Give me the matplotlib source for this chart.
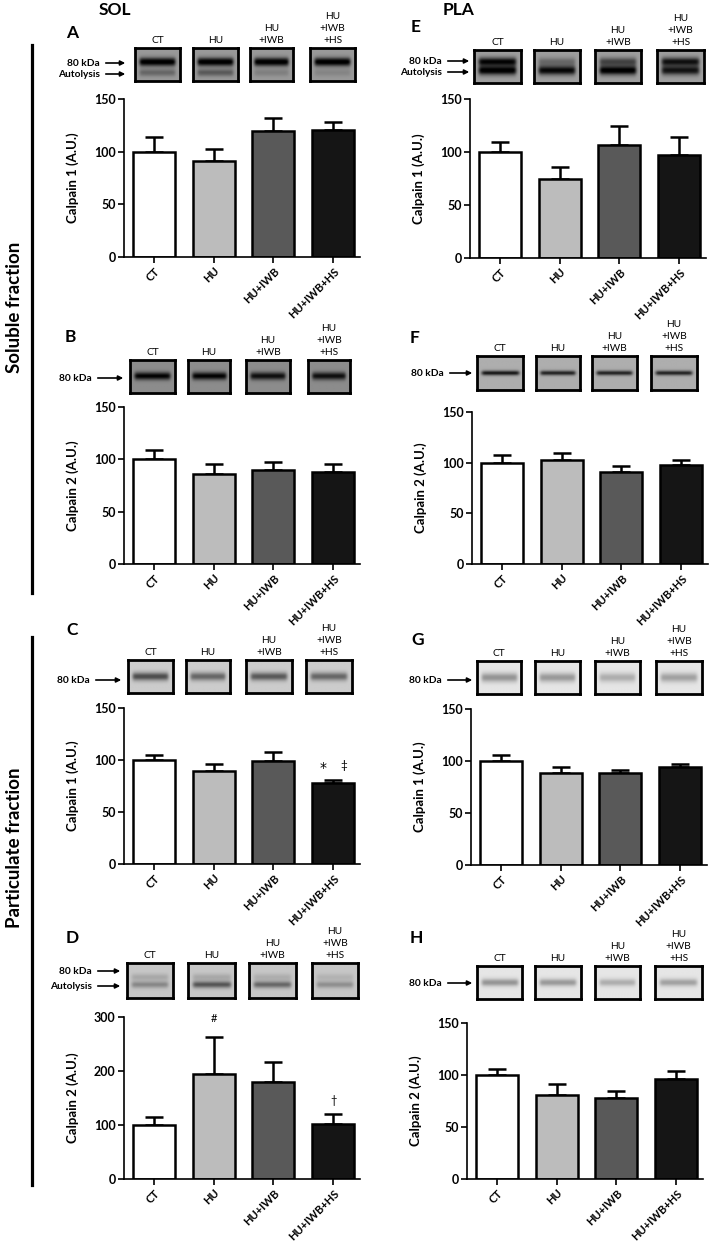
import numpy as np
import matplotlib
matplotlib.use('Agg')
import matplotlib.pyplot as plt

plt.rcParams['font.family'] = ['Lato', 'DejaVu Sans']

## data

groups = ['CT', 'HU', 'HU+IWB', 'HU+IWB+HS']
lanes = ['CT', 'HU', 'HU\n+IWB', 'HU\n+IWB\n+HS']
colors = ['#ffffff', '#bcbcbc', '#595959', '#151515']

A_mean = [100, 91, 120, 121]
A_err = [14, 12, 12, 7]
B_mean = [100, 86, 89.5, 88]
B_err = [8.5, 9.5, 7.5, 7.5]
C_mean = [100, 89, 99, 78]
C_err = [5, 7, 9, 3]
D_mean = [100, 195, 180, 102]
D_err = [15, 68, 37, 19]
E_mean = [100, 75, 106.5, 97]
E_err = [9, 11, 18.5, 17]
F_mean = [100, 103, 91, 97.5]
F_err = [7.5, 6.5, 6, 5]
G_mean = [100, 88, 88, 94.5]
G_err = [5.5, 6.5, 3.5, 3]
H_mean = [100, 81, 78, 96]
H_err = [6, 10, 7, 7.5]

W, H = 709, 1243
fig = plt.figure(figsize=(W / 100, H / 100), dpi=100)


def rect(l, t, r, b):
    return [l / W, 1 - b / H, (r - l) / W, (b - t) / H]


# overlay in pixel coords for labels / arrows / lines
ov = fig.add_axes([0, 0, 1, 1])
ov.set_xlim(0, W)
ov.set_ylim(H, 0)
ov.axis('off')


def blot_img(bg, bands, lane):
    ny, nx = 40, 60
    yy = np.linspace(0, 1, ny)[:, None]
    xx = np.linspace(0, 1, nx)[None, :]
    env = 0.5 * (np.tanh((xx - 0.1) / 0.04) - np.tanh((xx - 0.9) / 0.04))
    img = np.full((ny, nx), bg)
    for pos, sig, dark in bands:
        img = img - dark[lane] * np.exp(-(yy - pos) ** 2 / (2 * sig ** 2)) * env
    return np.clip(img, 0, 1)


# panel layout: letter, means, errs, ylabel, ymax, spine x, top y, zero y,
# blot top/bottom, blot x ranges, letter pos, arrow labels (text, y), arrow x0, x1, blot look
panels = [
    dict(letter='A', m=A_mean, e=A_err, yl='Calpain 1 (A.U.)', ymax=150, x0=124, top=99, bot=257,
         bt=48, bb=81, bx=[(135, 180), (193, 238), (250, 293), (310, 355)], lp=(72, 33),
         arr=[('80 kDa', 63), ('Autolysis', 74)], ax0=103, ax1=128,
         bg=0.6, bands=[(0.42, 0.09, [0.65, 0.65, 0.65, 0.65]), (0.75, 0.08, [0.2, 0.25, 0.1, 0.08])]),
    dict(letter='B', m=B_mean, e=B_err, yl='Calpain 2 (A.U.)', ymax=150, x0=124, top=407, bot=564,
         bt=360, bb=393, bx=[(130, 175), (188, 230), (246, 290), (308, 350)], lp=(70, 337),
         arr=[('80 kDa', 378)], ax0=95, ax1=126,
         bg=0.55, bands=[(0.5, 0.08, [0.55, 0.55, 0.5, 0.5])]),
    dict(letter='C', m=C_mean, e=C_err, yl='Calpain 1 (A.U.)', ymax=150, x0=124, top=708, bot=864,
         bt=660, bb=693, bx=[(128, 173), (186, 230), (246, 292), (306, 352)], lp=(72, 630),
         arr=[('80 kDa', 680)], ax0=93, ax1=124,
         bg=0.8, bands=[(0.5, 0.09, [0.5, 0.4, 0.45, 0.4])]),
    dict(letter='D', m=D_mean, e=D_err, yl='Calpain 2 (A.U.)', ymax=300, x0=124, top=1017, bot=1179,
         bt=963, bb=998, bx=[(127, 173), (188, 235), (249, 296), (312, 358)], lp=(72, 938),
         arr=[('80 kDa', 971), ('Autolysis', 986)], ax0=95, ax1=123,
         bg=0.78, bands=[(0.4, 0.07, [0.12, 0.12, 0.1, 0.08]), (0.62, 0.07, [0.25, 0.45, 0.38, 0.22])]),
    dict(letter='E', m=E_mean, e=E_err, yl='Calpain 1 (A.U.)', ymax=150, x0=470, top=99, bot=258,
         bt=50, bb=83, bx=[(474, 521), (534, 580), (595, 641), (657, 704)], lp=(416, 27),
         arr=[('80 kDa', 61), ('Autolysis', 72)], ax0=445, ax1=472,
         bg=0.62, bands=[(0.35, 0.09, [0.6, 0.2, 0.35, 0.55]), (0.62, 0.1, [0.65, 0.6, 0.65, 0.55])]),
    dict(letter='F', m=F_mean, e=F_err, yl='Calpain 2 (A.U.)', ymax=150, x0=472, top=412, bot=564,
         bt=356, bb=390, bx=[(477, 523), (536, 580), (592, 637), (651, 697)], lp=(415, 338),
         arr=[('80 kDa', 373)], ax0=447, ax1=475,
         bg=0.68, bands=[(0.5, 0.05, [0.6, 0.55, 0.55, 0.55])]),
    dict(letter='G', m=G_mean, e=G_err, yl='Calpain 1 (A.U.)', ymax=150, x0=471, top=709, bot=865,
         bt=661, bb=694, bx=[(477, 521), (535, 580), (595, 640), (656, 702)], lp=(418, 640),
         arr=[('80 kDa', 680)], ax0=445, ax1=475,
         bg=0.9, bands=[(0.5, 0.1, [0.32, 0.3, 0.22, 0.27])]),
    dict(letter='H', m=H_mean, e=H_err, yl='Calpain 2 (A.U.)', ymax=150, x0=467, top=1023, bot=1179,
         bt=966, bb=999, bx=[(477, 522), (535, 581), (595, 640), (655, 702)], lp=(416, 938),
         arr=[('80 kDa', 983)], ax0=445, ax1=475,
         bg=0.9, bands=[(0.5, 0.08, [0.32, 0.3, 0.22, 0.27])]),
]

axes = {}
for p in panels:
    ax = fig.add_axes(rect(p['x0'], p['top'], p['x0'] + 236, p['bot']))
    x = np.arange(4)
    ax.bar(x, p['m'], width=0.7, color=colors, edgecolor='black', linewidth=1.8, zorder=2)
    ax.errorbar(x, p['m'], yerr=[np.zeros(4), p['e']], fmt='none', ecolor='black',
                elinewidth=1.8, capsize=6.5, capthick=1.8, zorder=1)
    ax.set_xlim(-0.5, 3.45)
    ax.set_ylim(0, p['ymax'])
    ax.set_yticks(np.linspace(0, p['ymax'], 4))
    ax.set_xticks(x)
    ax.set_xticklabels(groups, rotation=45, ha='right', va='top', rotation_mode='anchor',
                       fontsize=8, fontweight='bold')
    for t in ax.get_yticklabels():
        t.set_fontsize(9)
        t.set_fontweight('bold')
    ax.spines['top'].set_visible(False)
    ax.spines['right'].set_visible(False)
    ax.spines['left'].set_linewidth(1.2)
    ax.spines['bottom'].set_linewidth(1.2)
    ax.tick_params(axis='both', length=4, width=1.2, pad=2)
    ax.set_ylabel(p['yl'], fontsize=9.5, fontweight='bold')
    ax.yaxis.set_label_coords(-0.19, 0.5)
    axes[p['letter']] = ax

    # blots
    for i, (l, r) in enumerate(p['bx']):
        bax = fig.add_axes(rect(l, p['bt'], r, p['bb']))
        bax.imshow(blot_img(p['bg'], p['bands'], i), cmap='gray', vmin=0, vmax=1,
                   aspect='auto', interpolation='bilinear')
        bax.set_xticks([])
        bax.set_yticks([])
        for s in bax.spines.values():
            s.set_linewidth(2)
        ov.text((l + r) / 2, p['bt'] - 3, lanes[i], ha='center', va='bottom',
                fontsize=7.3, linespacing=1.45)

    for txt, yy in p['arr']:
        ov.text(p['ax0'] - 3, yy, txt, ha='right', va='center', fontsize=7.3, fontweight='bold')
        ov.annotate('', xy=(p['ax1'], yy), xytext=(p['ax0'], yy),
                    arrowprops=dict(arrowstyle='-|>', lw=1.2, color='black', mutation_scale=7))
    ov.text(p['lp'][0], p['lp'][1], p['letter'], ha='center', va='center',
            fontsize=12.5, fontweight='bold')

# significance marks
axes['C'].text(2.83, 92, '*', ha='center', va='center', fontsize=10, family='DejaVu Sans')
axes['C'].text(3.17, 95, '\u2021', ha='center', va='center', fontsize=8.5)
axes['D'].text(1, 298, '#', ha='center', va='center', fontsize=8)
axes['D'].text(3, 146, '\u2020', ha='center', va='center', fontsize=8)

# column titles, fraction brackets
ov.text(115, 10, 'SOL', ha='center', va='center', fontsize=12.5, fontweight='bold')
ov.text(459, 10, 'PLA', ha='center', va='center', fontsize=12.5, fontweight='bold')
ov.plot([32, 32], [45, 593], color='black', lw=2.3)
ov.plot([32, 32], [637, 1185], color='black', lw=2.3)
ov.text(15, 307, 'Soluble fraction', rotation=90, ha='center', va='center',
        fontsize=13.5, fontweight='bold')
ov.text(15, 848, 'Particulate fraction', rotation=90, ha='center', va='center',
        fontsize=13.5, fontweight='bold')

fig.savefig('out.png', dpi=100)
